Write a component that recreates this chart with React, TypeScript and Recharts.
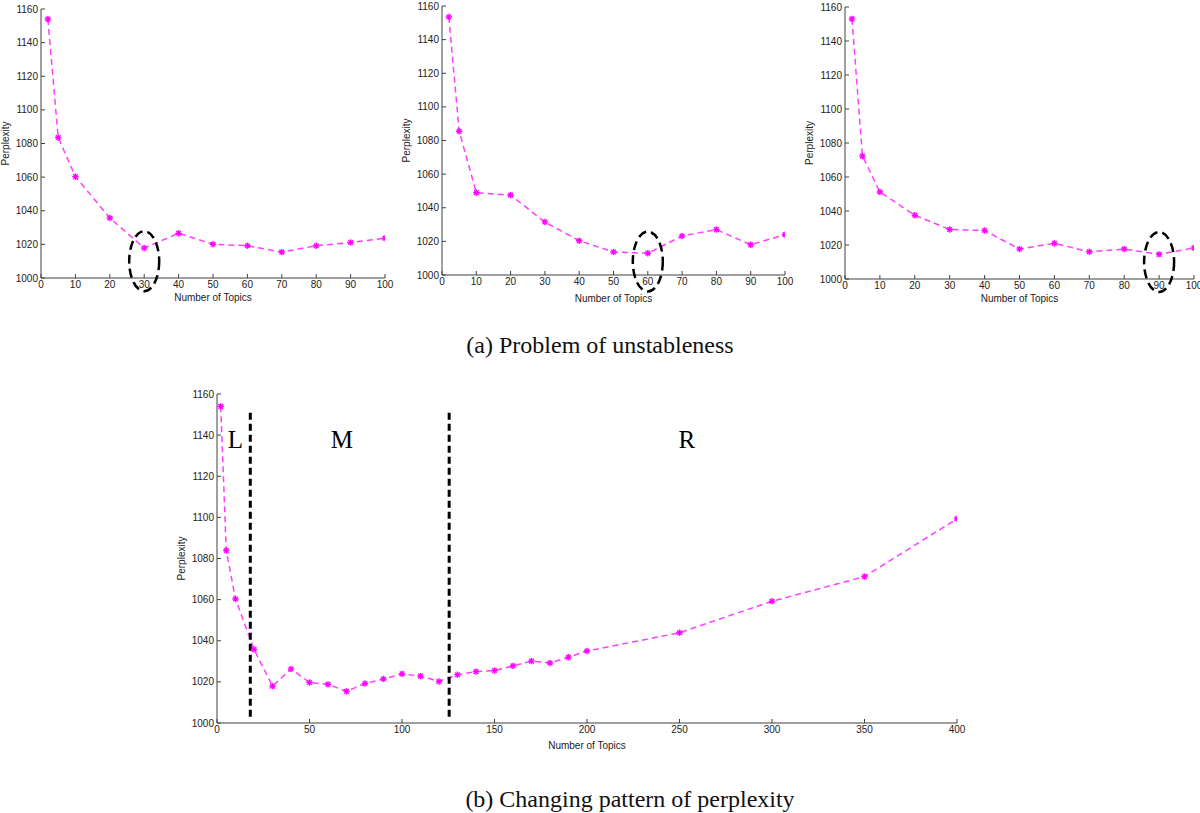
import { LineChart, Line, XAxis, YAxis, ReferenceLine, ReferenceDot } from "recharts"

// x values (number of topics) for the three small runs
const topicsSmall = [2, 5, 10, 20, 30, 40, 50, 60, 70, 80, 90, 100]
const perplexityRun1 = [1154, 1083.6, 1060.3, 1035.7, 1017.8, 1026.6, 1020.1, 1019.2, 1015.4, 1019.2, 1021.1, 1023.7]
const perplexityRun2 = [1153.5, 1085.5, 1049, 1047.5, 1031.5, 1020.4, 1013.7, 1012.9, 1023.2, 1027, 1018, 1024]
const perplexityRun3 = [1153, 1072.3, 1051.2, 1037.5, 1029.1, 1028.5, 1017.6, 1021, 1016, 1017.6, 1014.5, 1018.3]

// full sweep for panel (b)
const topicsFull = [2, 5, 10, 20, 30, 40, 50, 60, 70, 80, 90, 100, 110, 120, 130, 140, 150, 160, 170, 180, 190, 200, 250, 300, 350, 400]
const perplexityFull = [1154, 1083.9, 1060.3, 1035.8, 1017.9, 1026.3, 1019.7, 1018.8, 1015.4, 1019.2, 1021.4, 1023.9, 1022.8, 1020.2, 1023.5, 1025, 1025.5, 1027.8, 1030.1, 1029.2, 1032, 1035, 1043.9, 1059.2, 1071.2, 1099.3]

const xTicksSmall = [0, 10, 20, 30, 40, 50, 60, 70, 80, 90, 100]
const xTicksFull = [0, 50, 100, 150, 200, 250, 300, 350, 400]
const yTicks = [1000, 1020, 1040, 1060, 1080, 1100, 1120, 1140, 1160]

const toRows = (xs: number[], ys: number[]) => xs.map((x, i) => ({ topics: x, perplexity: ys[i] }))

const MAGENTA = "#ff00ff"
const AXIS = "#404040"
const sans = "'Liberation Sans', Arial, sans-serif"
const serif = "'Liberation Serif', 'Times New Roman', serif"

// matlab style '*' marker
const StarDot = (props: any) => {
    const { cx, cy } = props
    if (cx == null || cy == null) return null
    const s = 3.2
    return (
        <g stroke={MAGENTA} strokeWidth={1.4}>
            <line x1={cx - s} y1={cy} x2={cx + s} y2={cy} />
            <line x1={cx} y1={cy - s} x2={cx} y2={cy + s} />
            <line x1={cx - 2.3} y1={cy - 2.3} x2={cx + 2.3} y2={cy + 2.3} />
            <line x1={cx - 2.3} y1={cy + 2.3} x2={cx + 2.3} y2={cy - 2.3} />
        </g>
    )
}

const DashedEllipse = (props: any) => (
    <ellipse cx={props.cx} cy={props.cy} rx={15} ry={30} fill="none" stroke="#000" strokeWidth={2.5} strokeDasharray="9 5" />
)

type PanelProps = {
    data: { topics: number; perplexity: number }[]
    xTicks: number[]
    xMax: number
    width: number
    height: number
    margin: { top: number; right: number; bottom: number; left: number }
    yAxisWidth: number
    xLabelDy: number
    children?: any
}

function Panel({ data, xTicks, xMax, width, height, margin, yAxisWidth, xLabelDy, children }: PanelProps) {
    const tickStyle = { fontSize: 10, fill: "#222", fontFamily: sans }
    return (
        <LineChart width={width} height={height} data={data} margin={margin}>
            <XAxis
                dataKey="topics"
                type="number"
                domain={[0, xMax]}
                ticks={xTicks}
                allowDataOverflow
                stroke={AXIS}
                tickSize={-4}
                tickMargin={7}
                tick={tickStyle}
                height={30}
                interval={0}
                label={({ viewBox }: any) => (
                    <text x={viewBox.x + viewBox.width / 2} y={viewBox.y + xLabelDy} textAnchor="middle" dominantBaseline="central" fontSize={10} fill="#222" fontFamily={sans}>
                        Number of Topics
                    </text>
                )}
            />
            <XAxis xAxisId="top" orientation="top" dataKey="topics" type="number" domain={[0, xMax]} ticks={xTicks} height={0} stroke={AXIS} tickSize={-4} tickFormatter={() => ""} interval={0} />
            <YAxis
                type="number"
                domain={[1000, 1160]}
                ticks={yTicks}
                allowDataOverflow
                width={yAxisWidth}
                stroke={AXIS}
                tickSize={-4}
                tickMargin={7}
                tick={tickStyle}
                interval={0}
                label={({ viewBox }: any) => {
                    const x = viewBox.x + viewBox.width - 36
                    const y = viewBox.y + viewBox.height / 2
                    return (
                        <text x={x} y={y} transform={`rotate(-90 ${x} ${y})`} textAnchor="middle" dominantBaseline="central" fontSize={10} fill="#222" fontFamily={sans}>
                            Perplexity
                        </text>
                    )
                }}
            />
            <YAxis yAxisId="right" orientation="right" type="number" domain={[1000, 1160]} ticks={yTicks} width={0} stroke={AXIS} tickSize={-4} tickFormatter={() => ""} interval={0} />
            <Line
                type="linear"
                dataKey="perplexity"
                stroke="#ff40ff"
                strokeWidth={1.5}
                strokeDasharray="6 4"
                dot={<StarDot />}
                isAnimationActive={false}
            />
            {children}
        </LineChart>
    )
}

export default function App() {
    return (
        <div style={{ position: "absolute", left: 0, top: 0, width: 1200, height: 813, background: "#fff", overflow: "hidden" }}>
            <div style={{ position: "absolute", left: 0, top: 0 }}>
                <Panel data={toRows(topicsSmall, perplexityRun1)} xTicks={xTicksSmall} xMax={100} width={400} height={310}
                    margin={{ top: 9, right: 15, bottom: 2, left: 0 }} yAxisWidth={41} xLabelDy={19}>
                    <ReferenceDot x={30} y={1010} r={15} shape={<DashedEllipse />} ifOverflow="visible" />
                </Panel>
            </div>
            <div style={{ position: "absolute", left: 400, top: 0 }}>
                <Panel data={toRows(topicsSmall, perplexityRun2)} xTicks={xTicksSmall} xMax={100} width={400} height={310}
                    margin={{ top: 6, right: 15, bottom: 5, left: 0 }} yAxisWidth={42} xLabelDy={23}>
                    <ReferenceDot x={60} y={1008} r={15} shape={<DashedEllipse />} ifOverflow="visible" />
                </Panel>
            </div>
            <div style={{ position: "absolute", left: 800, top: 0 }}>
                <Panel data={toRows(topicsSmall, perplexityRun3)} xTicks={xTicksSmall} xMax={100} width={400} height={310}
                    margin={{ top: 7, right: 6, bottom: 1, left: 0 }} yAxisWidth={45} xLabelDy={19}>
                    <ReferenceDot x={90} y={1010} r={15} shape={<DashedEllipse />} ifOverflow="visible" />
                </Panel>
            </div>
            <div style={{ position: "absolute", left: 0, top: 331, width: 1200, textAlign: "center", fontFamily: serif, fontSize: 24, lineHeight: "28px", color: "#111" }}>
                (a) Problem of unstableness
            </div>

            <div style={{ position: "absolute", left: 160, top: 380 }}>
                <Panel data={toRows(topicsFull, perplexityFull)} xTicks={xTicksFull} xMax={400} width={820} height={380}
                    margin={{ top: 14, right: 23, bottom: 7, left: 0 }} yAxisWidth={57} xLabelDy={22}>
                    <ReferenceLine segment={[{ x: 18, y: 1003 }, { x: 18, y: 1152 }]} stroke="#000" strokeWidth={3} strokeDasharray="7 4" />
                    <ReferenceLine segment={[{ x: 125.5, y: 1003 }, { x: 125.5, y: 1152 }]} stroke="#000" strokeWidth={3} strokeDasharray="7 4" />
                    <ReferenceDot x={10} y={1138} r={0} fill="none" stroke="none"
                        label={{ value: "L", position: "center", fontSize: 25, fill: "#000", fontFamily: serif }} />
                    <ReferenceDot x={67.5} y={1138} r={0} fill="none" stroke="none"
                        label={{ value: "M", position: "center", fontSize: 25, fill: "#000", fontFamily: serif }} />
                    <ReferenceDot x={254} y={1138} r={0} fill="none" stroke="none"
                        label={{ value: "R", position: "center", fontSize: 25, fill: "#000", fontFamily: serif }} />
                </Panel>
            </div>
            <div style={{ position: "absolute", left: 460, top: 785, width: 340, textAlign: "center", fontFamily: serif, fontSize: 24, lineHeight: "28px", color: "#111" }}>
                (b) Changing pattern of perplexity
            </div>
        </div>
    )
}
